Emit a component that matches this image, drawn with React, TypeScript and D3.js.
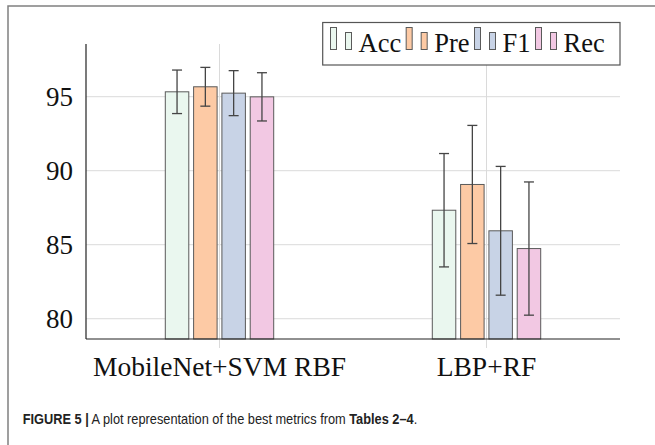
import React, { useEffect, useRef } from 'react';
import * as d3 from 'd3';

const categories = ['MobileNet+SVM RBF', 'LBP+RF'];
const metrics = ['Acc', 'Pre', 'F1', 'Rec'];
const accValues = [95.33, 87.33];
const accErrors = [1.47, 3.83];
const preValues = [95.67, 89.07];
const preErrors = [1.31, 3.99];
const f1Values = [95.24, 85.94];
const f1Errors = [1.52, 4.35];
const recValues = [94.99, 84.74];
const recErrors = [1.63, 4.5];
const yTicks = [80, 85, 90, 95];
const colors = ['#eaf7ef', '#fdcaa5', '#c8d3e6', '#f2c8e3'];

const App = () => {
  const svgRef = useRef<SVGSVGElement>(null);

  useEffect(() => {
    const svg = d3.select(svgRef.current);
    svg.selectAll('*').remove();

    const margin = { top: 44, right: 35, bottom: 106, left: 86 };
    const W = 655, H = 445;
    const x0 = margin.left, x1 = W - margin.right;
    const y0 = H - margin.bottom, y1 = margin.top;

    const series = [
      { name: metrics[0], values: accValues, errors: accErrors },
      { name: metrics[1], values: preValues, errors: preErrors },
      { name: metrics[2], values: f1Values, errors: f1Errors },
      { name: metrics[3], values: recValues, errors: recErrors },
    ];
    const color = d3.scaleOrdinal<string, string>().domain(metrics).range(colors);

    const x = d3.scalePoint().domain(categories).range([x0, x1]).padding(0.5);
    const xInner = d3.scaleBand().domain(metrics).range([-54.2, 54.2]).paddingInner(0.17).paddingOuter(0);
    const y = d3.scaleLinear().domain([78.63, 98.56]).range([y0, y1]);

    // outer figure frame
    svg.append('path')
      .attr('d', `M8,${H} L8,6 L${W},6`)
      .attr('fill', 'none')
      .attr('stroke', '#808080')
      .attr('stroke-width', 1.5);

    // grid
    svg.append('g').selectAll('line').data(yTicks).enter().append('line')
      .attr('x1', x0).attr('x2', x1)
      .attr('y1', d => y(d)).attr('y2', d => y(d))
      .attr('stroke', '#dadada').attr('stroke-width', 1);
    svg.append('g').selectAll('line').data(categories).enter().append('line')
      .attr('x1', d => x(d)!).attr('x2', d => x(d)!)
      .attr('y1', y1).attr('y2', y0 + 9)
      .attr('stroke', '#dadada').attr('stroke-width', 1);

    // bars
    const groups = svg.append('g').selectAll('g').data(series).enter().append('g');
    groups.selectAll('rect')
      .data(s => s.values.map((v, i) => ({ name: s.name, cat: categories[i], v, e: s.errors[i] })))
      .enter().append('rect')
      .attr('x', d => x(d.cat)! + xInner(d.name)!)
      .attr('width', xInner.bandwidth())
      .attr('y', d => y(d.v))
      .attr('height', d => y0 - y(d.v))
      .attr('fill', d => color(d.name))
      .attr('stroke', '#5a5a5a')
      .attr('stroke-width', 1);

    // error bars
    const err = svg.append('g').attr('stroke', '#454545').attr('stroke-width', 1.3);
    series.forEach(s => {
      s.values.forEach((v, i) => {
        const cx = x(categories[i])! + xInner(s.name)! + xInner.bandwidth() / 2;
        const top = y(v + s.errors[i]);
        const bot = y(v - s.errors[i]);
        err.append('line').attr('x1', cx).attr('x2', cx).attr('y1', top).attr('y2', bot);
        err.append('line').attr('x1', cx - 5).attr('x2', cx + 5).attr('y1', top).attr('y2', top);
        err.append('line').attr('x1', cx - 5).attr('x2', cx + 5).attr('y1', bot).attr('y2', bot);
      });
    });

    // axes
    svg.append('line').attr('x1', x0).attr('x2', x0).attr('y1', y1).attr('y2', y0)
      .attr('stroke', '#222').attr('stroke-width', 1.2);
    svg.append('line').attr('x1', x0).attr('x2', x1).attr('y1', y0).attr('y2', y0)
      .attr('stroke', '#222').attr('stroke-width', 1.2);

    const serif = '"Liberation Serif", "DejaVu Serif", serif';
    svg.append('g').selectAll('text').data(yTicks).enter().append('text')
      .attr('x', x0 - 13).attr('y', d => y(d))
      .attr('dy', '0.35em')
      .attr('text-anchor', 'end')
      .style('font-family', serif).style('font-size', '27px').attr('fill', '#111')
      .text(d => d);

    svg.append('g').selectAll('text').data(categories).enter().append('text')
      .attr('x', d => x(d)!).attr('y', y0 + 37)
      .attr('text-anchor', 'middle')
      .style('font-family', serif).style('font-size', '27.5px').attr('fill', '#111')
      .text(d => d);

    // legend
    const legend = svg.append('g');
    const box = legend.append('rect')
      .attr('y', 22.5).attr('height', 42.5)
      .attr('fill', 'white').attr('stroke', '#555').attr('stroke-width', 1.2);
    let lx = 330.5;
    metrics.forEach(m => {
      legend.append('rect').attr('x', lx).attr('y', 27.5).attr('width', 6).attr('height', 22)
        .attr('fill', color(m)).attr('stroke', '#5a5a5a').attr('stroke-width', 1);
      legend.append('rect').attr('x', lx + 15).attr('y', 32.5).attr('width', 6).attr('height', 17)
        .attr('fill', color(m)).attr('stroke', '#5a5a5a').attr('stroke-width', 1);
      const t = legend.append('text')
        .attr('x', lx + 28).attr('y', 51.5)
        .style('font-family', serif).style('font-size', '26.5px').attr('fill', '#111')
        .text(m);
      const w = (t.node() as SVGTextElement).getComputedTextLength();
      lx = lx + 28 + w + 5;
    });
    box.attr('x', 322.7).attr('width', x1 - 322.7);

    // caption, squeezed horizontally to match the condensed face
    const cap = svg.append('text')
      .style('font-family', '"Liberation Sans", Arial, sans-serif').style('font-size', '14px')
      .attr('fill', '#222');
    cap.append('tspan').attr('font-weight', 'bold').text('FIGURE 5 |');
    cap.append('tspan').text(' A plot representation of the best metrics from ');
    cap.append('tspan').attr('font-weight', 'bold').text('Tables 2–4');
    cap.append('tspan').text('.');
    const natural = (cap.node() as SVGTextElement).getComputedTextLength();
    const sx = natural > 0 ? 395 / natural : 1;
    cap.attr('transform', `translate(22.7,424.3) scale(${sx},1)`);
  }, []);

  return (
    <svg ref={svgRef} width={655} height={445}
      style={{ position: 'absolute', left: 0, top: 0, background: 'white' }} />
  );
};

export default App;
